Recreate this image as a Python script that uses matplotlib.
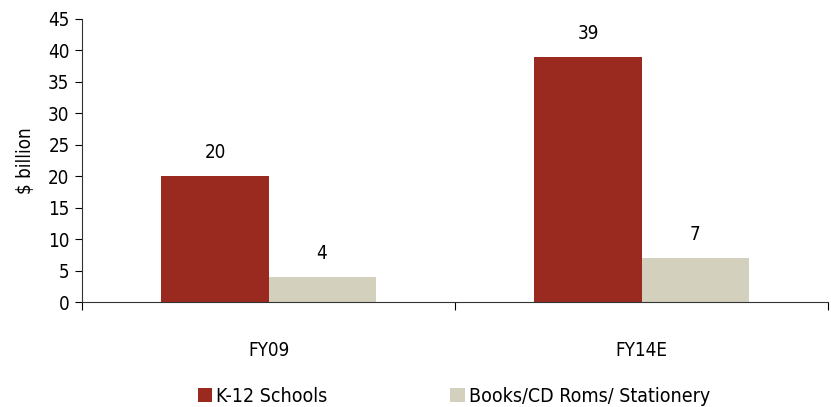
import matplotlib
matplotlib.use("Agg")
import matplotlib.pyplot as plt
import numpy as np
from matplotlib.patches import Patch

categories = ["FY09", "FY14E"]
series_names = ["K-12 Schools", "Books/CD Roms/ Stationery"]
k12 = [20, 39]
books = [4, 7]
yticks = [0, 5, 10, 15, 20, 25, 30, 35, 40, 45]

plt.rcParams['font.family'] = ['DejaVu Sans']
plt.rcParams['font.stretch'] = 'condensed'

red = "#9A2A20"
beige = "#D3D0BD"
FS = 13.5

fig = plt.figure(figsize=(8.31, 4.07), dpi=100)
ax = fig.add_axes([82/831, 1-302/407, (828-82)/831, (302-19)/407])

x = np.arange(len(categories))
w = 0.287
b1 = ax.bar(x - w/2, k12, w, color=red, label=series_names[0])
b2 = ax.bar(x + w/2, books, w, color=beige, label=series_names[1])

for bars, vals in ((b1, k12), (b2, books)):
    for r, v in zip(bars, vals):
        ax.annotate(str(v), (r.get_x() + r.get_width()/2, v), xytext=(0, 10),
                    textcoords="offset points", ha="center", va="bottom", fontsize=FS)

ax.set_xlim(-0.5, len(categories) - 0.5)
ax.set_ylim(0, 45)
ax.set_yticks(yticks)
ax.tick_params(axis='y', labelsize=FS, length=5, width=0.8, pad=4)
ax.set_xticks(np.arange(len(categories) + 1) - 0.5)
ax.set_xticklabels([])
ax.set_xticks(x, minor=True)
ax.set_xticklabels(categories, minor=True, fontsize=FS)
ax.tick_params(axis='x', which='major', direction='out', length=6, width=0.8)
ax.tick_params(axis='x', which='minor', length=0, pad=28)
ax.set_ylabel("$ billion", fontsize=FS, labelpad=9)

for s in ["top", "right"]:
    ax.spines[s].set_visible(False)
for s in ["left", "bottom"]:
    ax.spines[s].set_linewidth(0.8)
    ax.spines[s].set_color("#333333")

handles = [Patch(facecolor=red), Patch(facecolor=beige)]
fig.legend(handles, series_names, loc="center left", bbox_to_anchor=(192/831, 0.027),
           ncol=2, frameon=False, fontsize=14, handlelength=0.75, handleheight=0.75,
           handletextpad=0.2, columnspacing=6.3, borderaxespad=0, borderpad=0.3)

fig.savefig("out.png", dpi=100)
